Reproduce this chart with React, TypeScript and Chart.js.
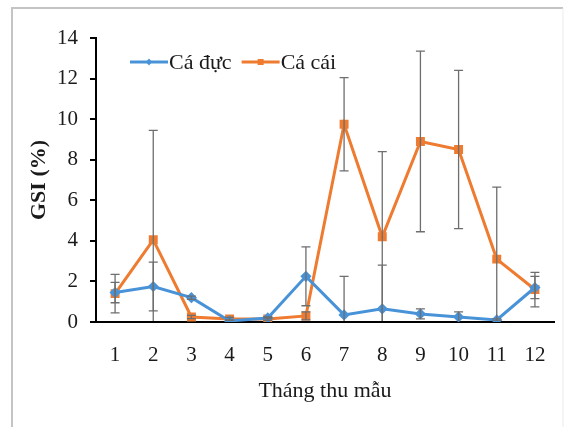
import React, { useEffect, useRef } from "react";
import { Chart, registerables } from "chart.js";

Chart.register(...registerables);

const MONTHS = ["1", "2", "3", "4", "5", "6", "7", "8", "9", "10", "11", "12"];
const MALE_LABEL = "Cá đực";
const FEMALE_LABEL = "Cá cái";
const MALE_GSI = [1.45, 1.75, 1.2, 0.05, 0.2, 2.25, 0.35, 0.65, 0.4, 0.25, 0.1, 1.7];
const MALE_SD = [0.5, 1.2, 0.08, 0.05, 0.05, 1.45, 1.9, 2.15, 0.25, 0.25, 0.05, 0.55];
const FEMALE_GSI = [1.4, 4.05, 0.25, 0.15, 0.15, 0.3, 9.75, 4.2, 8.9, 8.5, 3.1, 1.6];
const FEMALE_SD = [0.95, 5.4, 0.08, 0.08, 0.08, 0.2, 2.3, 4.2, 4.45, 3.9, 3.55, 0.85];
const Y_MIN = 0;
const Y_MAX = 14;
const Y_STEP = 2;

const BLUE = "#4893d8";
const ORANGE = "#ee7b2f";
const FONT = "'Liberation Serif', 'Times New Roman', serif";

const framePlugin = {
  id: "frame",
  beforeDraw(chart: any) {
    const ctx = chart.ctx;
    ctx.save();
    ctx.fillStyle = "#ffffff";
    ctx.fillRect(0, 0, chart.width, chart.height);
    ctx.lineWidth = 2;
    ctx.strokeStyle = "#c4c4c4";
    ctx.beginPath();
    ctx.moveTo(12, chart.height);
    ctx.lineTo(12, 8);
    ctx.lineTo(chart.width - 6, 8);
    ctx.stroke();
    ctx.strokeStyle = "#ececec";
    ctx.lineWidth = 1;
    ctx.beginPath();
    ctx.moveTo(chart.width - 6, 8);
    ctx.lineTo(chart.width - 6, chart.height);
    ctx.stroke();
    ctx.restore();
  },
};

const errorBarPlugin = {
  id: "errorBars",
  afterDatasetsDraw(chart: any) {
    const ctx = chart.ctx;
    const area = chart.chartArea;
    const yScale = chart.scales.y;
    ctx.save();
    ctx.beginPath();
    ctx.rect(area.left, area.top - 2, area.right - area.left, area.bottom - area.top + 1);
    ctx.clip();
    ctx.strokeStyle = "#6e6e6e";
    ctx.lineWidth = 1.3;
    chart.data.datasets.forEach((ds: any, di: number) => {
      const meta = chart.getDatasetMeta(di);
      const errs: number[] = ds.errors || [];
      meta.data.forEach((pt: any, i: number) => {
        const v = ds.data[i];
        const e = errs[i];
        if (e == null) return;
        const x = pt.x;
        const yTop = yScale.getPixelForValue(v + e);
        const yBot = yScale.getPixelForValue(v - e);
        ctx.beginPath();
        ctx.moveTo(x, yTop);
        ctx.lineTo(x, yBot);
        ctx.moveTo(x - 4.5, yTop);
        ctx.lineTo(x + 4.5, yTop);
        ctx.moveTo(x - 4.5, yBot);
        ctx.lineTo(x + 4.5, yBot);
        ctx.stroke();
      });
    });
    ctx.restore();
  },
};

const legendPlugin = {
  id: "innerLegend",
  afterDraw(chart: any) {
    const ctx = chart.ctx;
    const area = chart.chartArea;
    let x = area.left + 34;
    const y = area.top + 24;
    ctx.save();
    ctx.font = `22px ${FONT}`;
    ctx.textBaseline = "middle";
    ctx.textAlign = "left";
    chart.data.datasets.forEach((ds: any) => {
      const lineLen = 38;
      ctx.strokeStyle = ds.borderColor;
      ctx.lineWidth = 3;
      ctx.beginPath();
      ctx.moveTo(x, y);
      ctx.lineTo(x + lineLen, y);
      ctx.stroke();
      ctx.fillStyle = ds.borderColor;
      const cx = x + lineLen / 2;
      if (ds.pointStyle === "rect") {
        ctx.fillRect(cx - 3, y - 3, 6, 6);
      } else {
        ctx.beginPath();
        ctx.moveTo(cx, y - 3.5);
        ctx.lineTo(cx + 3, y);
        ctx.lineTo(cx, y + 3.5);
        ctx.lineTo(cx - 3, y);
        ctx.closePath();
        ctx.fill();
      }
      ctx.fillStyle = "#1a1a1a";
      const tx = x + lineLen + 1;
      ctx.fillText(ds.label, tx, y + 1);
      x = tx + ctx.measureText(ds.label).width + 10;
    });
    ctx.restore();
  },
};

export default function App() {
  const ref = useRef<HTMLCanvasElement | null>(null);

  useEffect(() => {
    if (!ref.current) return;
    const chart = new Chart(ref.current, {
      type: "line",
      data: {
        labels: MONTHS,
        datasets: [
          {
            label: MALE_LABEL,
            data: MALE_GSI,
            errors: MALE_SD,
            borderColor: BLUE,
            backgroundColor: BLUE,
            pointBackgroundColor: BLUE,
            pointBorderColor: BLUE,
            pointStyle: "rectRot",
            pointRadius: 3.5,
            borderWidth: 3,
            tension: 0,
          } as any,
          {
            label: FEMALE_LABEL,
            data: FEMALE_GSI,
            errors: FEMALE_SD,
            borderColor: ORANGE,
            backgroundColor: ORANGE,
            pointBackgroundColor: ORANGE,
            pointBorderColor: ORANGE,
            pointStyle: "rect",
            pointRadius: 4.2,
            borderWidth: 3,
            tension: 0,
          } as any,
        ],
      },
      options: {
        responsive: false,
        animation: false,
        devicePixelRatio: 1,
        layout: { padding: { left: 0, right: 15, top: 38, bottom: 0 } },
        plugins: {
          legend: { display: false },
          tooltip: { enabled: false },
        },
        scales: {
          x: {
            type: "category",
            offset: true,
            grid: { display: false, drawTicks: false },
            border: { display: true, color: "#000000", width: 2 },
            ticks: {
              color: "#1a1a1a",
              padding: 21,
              font: { family: FONT, size: 21 },
              maxRotation: 0,
              autoSkip: false,
            },
            title: {
              display: true,
              text: "Tháng thu mẫu",
              color: "#1a1a1a",
              font: { family: FONT, size: 22 },
              padding: { top: 0, bottom: 23 },
            },
            afterFit: (scale: any) => {
              scale.height = 105;
            },
          },
          y: {
            min: Y_MIN,
            max: Y_MAX,
            grid: {
              display: true,
              drawOnChartArea: false,
              drawTicks: true,
              tickLength: 6,
              color: "#000000",
              lineWidth: 2,
            },
            border: { display: true, color: "#000000", width: 2 },
            ticks: {
              stepSize: Y_STEP,
              color: "#1a1a1a",
              padding: 12,
              font: { family: FONT, size: 21 },
            },
            title: {
              display: true,
              text: "GSI (%)",
              color: "#1a1a1a",
              font: { family: FONT, size: 22, weight: "bold" },
              padding: { top: 26, bottom: 0 },
            },
            afterFit: (scale: any) => {
              scale.width = 96;
            },
          },
        },
      } as any,
      plugins: [framePlugin, errorBarPlugin, legendPlugin],
    });
    return () => chart.destroy();
  }, []);

  return (
    <div style={{ position: "absolute", left: 0, top: 0, width: 569, height: 427 }}>
      <canvas ref={ref} width={569} height={427} style={{ width: 569, height: 427, display: "block" }} />
    </div>
  );
}
